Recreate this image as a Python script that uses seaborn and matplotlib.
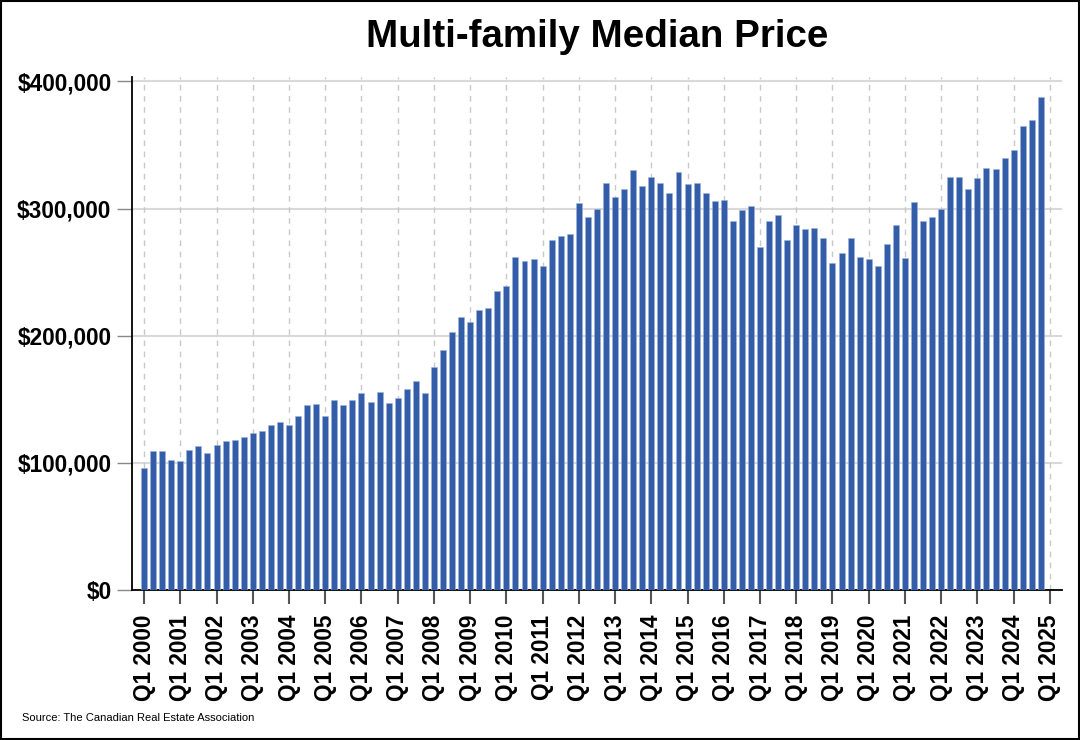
import numpy as np
import pandas as pd
import seaborn as sns
import matplotlib.pyplot as plt
from matplotlib.ticker import FuncFormatter

# Quarterly median price (thousands of dollars), Q1 2000 - Q4 2024
years = list(range(2000, 2025))
quarters = ['Q1', 'Q2', 'Q3', 'Q4']
median_price_k = [
    96, 109, 109, 102, 101, 110, 113, 108, 114, 117,
    118, 120, 123, 125, 130, 132, 130, 137, 145, 146,
    137, 149, 145, 149, 155, 148, 156, 147, 151, 158,
    164, 155, 175, 189, 203, 215, 211, 220, 222, 235,
    239, 262, 259, 260, 255, 275, 278, 280, 304, 293,
    300, 320, 309, 315, 330, 318, 325, 320, 312, 329,
    319, 320, 312, 306, 307, 290, 299, 302, 270, 290,
    295, 275, 287, 284, 285, 277, 257, 265, 277, 262,
    260, 255, 272, 287, 261, 305, 290, 293, 300, 325,
    325, 315, 324, 332, 331, 340, 346, 365, 370, 388,
]
tick_labels = [f'Q1 {y}' for y in range(2000, 2026)]

title = 'Multi-family Median Price'
source = 'Source: The Canadian Real Estate Association'

period = [f'{q} {y}' for y in years for q in quarters]
df = pd.DataFrame({'period': period, 'price': np.array(median_price_k) * 1000})

sns.set_style('white')
plt.rcParams['font.family'] = ['Liberation Sans', 'DejaVu Sans']
plt.rcParams['text.color'] = 'black'
plt.rcParams['xtick.labelcolor'] = 'black'
plt.rcParams['ytick.labelcolor'] = 'black'

fig = plt.figure(figsize=(10.8, 7.4), dpi=100)
ax = fig.add_axes([0.1225, 0.203, 0.8605, 0.693])

sns.barplot(data=df, x='period', y='price', color='#335DA8', saturation=1,
            width=0.66, edgecolor='#9fb4da', linewidth=0.4, ax=ax, zorder=3)

ax.set_xlim(-1.3, 101.3)
ax.set_ylim(0, 403500)

xt = np.arange(0, 101, 4)
ax.set_xticks(xt)
ax.set_xticklabels(tick_labels, rotation=90, fontsize=16.3, fontweight='bold')
ax.set_yticks(np.arange(0, 400001, 100000))
ax.yaxis.set_major_formatter(FuncFormatter(lambda v, _: f'${v:,.0f}'))
for lab in ax.get_yticklabels():
    lab.set_fontsize(16.3)
    lab.set_fontweight('bold')

ax.tick_params(axis='x', length=10, width=1.5, color='#555555', pad=8, direction='out')
ax.tick_params(axis='y', length=11, width=1, color='#888888', pad=4, direction='out')
ax.xaxis.set_ticks_position('bottom')
ax.yaxis.set_ticks_position('left')

ax.grid(axis='y', color='#d9d9d9', linewidth=1.5, zorder=0)
for x in xt:
    ax.axvline(x, color='#c8c8c8', linestyle=(0, (4, 4)), linewidth=1, zorder=1)

for side in ['top', 'right']:
    ax.spines[side].set_visible(False)
for side in ['left', 'bottom']:
    ax.spines[side].set_color('black')
    ax.spines[side].set_linewidth(1.3)

ax.set_xlabel('')
ax.set_ylabel('')
fig.text(0.553, 0.95, title, ha='center', va='center', fontsize=27.7, fontweight='bold')
fig.text(0.02, 0.03, source, ha='left', va='center', fontsize=8)

# black frame round the whole figure
fig.patches.append(plt.Rectangle((0.001, 0.001), 0.998, 0.998, transform=fig.transFigure,
                                 fill=False, edgecolor='black', linewidth=1.5))

fig.savefig('out.png', dpi=100)
